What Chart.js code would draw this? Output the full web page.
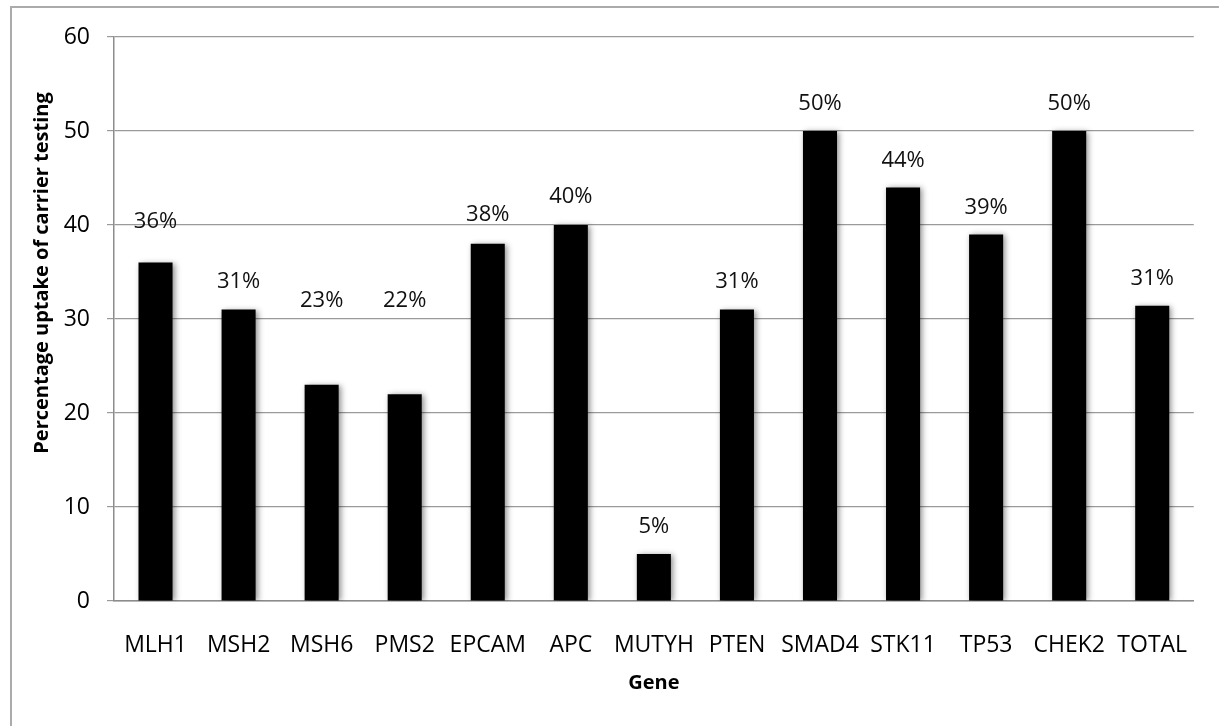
<!DOCTYPE html>
<html>
<head>
<meta charset="utf-8">
<script src="https://cdn.jsdelivr.net/npm/chart.js@4.4.1/dist/chart.umd.min.js"></script>
<style>
  html, body { margin: 0; padding: 0; background: #ffffff; }
  canvas { display: block; }
</style>
</head>
<body>
<canvas id="chart" width="1219" height="726"></canvas>
<script>
// Carrier-testing uptake by gene
const genes = ['MLH1', 'MSH2', 'MSH6', 'PMS2', 'EPCAM', 'APC', 'MUTYH', 'PTEN', 'SMAD4', 'STK11', 'TP53', 'CHEK2', 'TOTAL'];
const uptake = [36, 31, 23, 22, 38, 40, 5, 31, 50, 44, 39, 50, 31.4];
const yTicks = [0, 10, 20, 30, 40, 50, 60];

// Distance (px) of each value label above its bar
const labelLift = [41, 28, 84, 93, 29, 28, 27, 28, 27, 27, 27, 27, 27];

const FONT = '"Open Sans", "Noto Sans", sans-serif';

const framePlugin = {
  id: 'frame',
  beforeDraw(chart) {
    const ctx = chart.ctx;
    ctx.save();
    ctx.fillStyle = '#ffffff';
    ctx.fillRect(0, 0, chart.width, chart.height);
    ctx.strokeStyle = '#ababab';
    ctx.lineWidth = 2;
    ctx.beginPath();
    ctx.moveTo(11, chart.height + 2);
    ctx.lineTo(11, 7);
    ctx.lineTo(chart.width + 2, 7);
    ctx.stroke();
    ctx.restore();
  }
};

const shadowPlugin = {
  id: 'barShadow',
  beforeDatasetsDraw(chart) {
    const ctx = chart.ctx;
    ctx.save();
    ctx.shadowColor = 'rgba(0,0,0,0.45)';
    ctx.shadowBlur = 6;
    ctx.shadowOffsetX = 2;
    ctx.shadowOffsetY = 1;
  },
  afterDatasetsDraw(chart) {
    chart.ctx.restore();
  }
};

const valueLabelPlugin = {
  id: 'valueLabels',
  afterDatasetsDraw(chart) {
    const ctx = chart.ctx;
    const meta = chart.getDatasetMeta(0);
    ctx.save();
    ctx.font = '22px ' + FONT;
    ctx.fillStyle = '#111111';
    ctx.textAlign = 'center';
    ctx.textBaseline = 'middle';
    meta.data.forEach((bar, i) => {
      const v = chart.data.datasets[0].data[i];
      ctx.fillText(Math.round(v) + '%', bar.x, bar.y - labelLift[i]);
    });
    ctx.restore();
  }
};

const axisTitlePlugin = {
  id: 'axisTitles',
  afterDraw(chart) {
    const ctx = chart.ctx;
    const area = chart.chartArea;
    ctx.save();
    ctx.fillStyle = '#000000';
    ctx.font = 'bold 20px ' + FONT;
    ctx.textAlign = 'center';
    ctx.textBaseline = 'middle';
    ctx.fillText('Gene', (area.left + area.right) / 2, 683);
    ctx.translate(42, 273);
    ctx.rotate(-Math.PI / 2);
    ctx.fillText('Percentage uptake of carrier testing', 0, 0);
    ctx.restore();
  }
};

new Chart(document.getElementById('chart'), {
  type: 'bar',
  data: {
    labels: genes,
    datasets: [{
      data: uptake,
      backgroundColor: '#000000',
      borderWidth: 0,
      barPercentage: 0.41,
      categoryPercentage: 1
    }]
  },
  options: {
    responsive: false,
    animation: false,
    events: [],
    layout: { padding: { left: 0, top: 37, right: 23, bottom: 0 } },
    plugins: {
      legend: { display: false },
      tooltip: { enabled: false }
    },
    scales: {
      x: {
        grid: { display: false, drawTicks: false },
        border: { display: true, color: '#8c8c8c', width: 1.5 },
        ticks: {
          color: '#000000',
          font: { family: FONT, size: 23 },
          padding: 31,
          maxRotation: 0,
          autoSkip: false
        },
        afterFit(scale) { scale.height = 125; }
      },
      y: {
        min: 0,
        max: 60,
        afterBuildTicks(scale) { scale.ticks = yTicks.map(v => ({ value: v })); },
        grid: { color: '#9a9a9a', lineWidth: 1.2, tickLength: 7, drawTicks: true },
        border: { display: true, color: '#8c8c8c', width: 1.5 },
        ticks: {
          color: '#000000',
          font: { family: FONT, size: 23 },
          padding: 17
        },
        afterFit(scale) { scale.width = 114; }
      }
    }
  },
  plugins: [framePlugin, shadowPlugin, valueLabelPlugin, axisTitlePlugin]
});
</script>
</body>
</html>
